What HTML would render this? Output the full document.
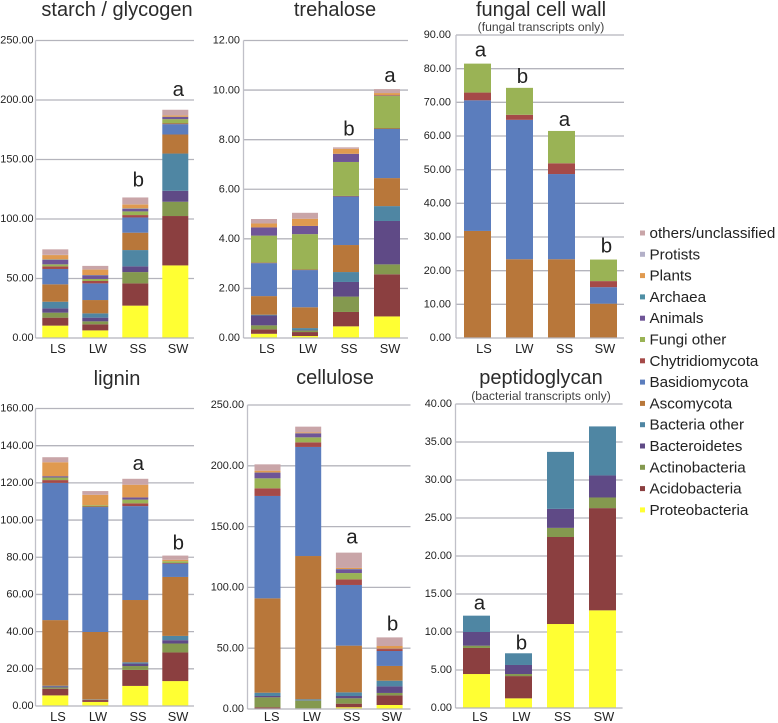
<!DOCTYPE html>
<html>
<head>
<meta charset="utf-8">
<title>Transcripts by substrate</title>
<style>
html,body{margin:0;padding:0;background:#fff;}
#chart{display:block;width:778px;height:723px;font-family:"Liberation Sans",sans-serif;filter:blur(0.3px);}
</style>
</head>
<body>
<svg id="chart" xmlns="http://www.w3.org/2000/svg" width="778" height="723" viewBox="0 0 778 723"></svg>
<script>
const categories = ['LS','LW','SS','SW'];
const seriesNames = ['Proteobacteria','Acidobacteria','Actinobacteria','Bacteroidetes','Bacteria other','Ascomycota','Basidiomycota','Chytridiomycota','Fungi other','Animals','Archaea','Plants','Protists','others/unclassified'];
const seriesColors = ['#ffff33','#8b3f40','#84994f','#5f4a86','#4f86a3','#b8773a','#5b7dbd','#a54a48','#9ab355','#6f5597','#4f8fa5','#e09a50','#b3b0c8','#c9a5a8'];

const starchTicks = ['0.00','50.00','100.00','150.00','200.00','250.00'];
const starchLS = [10.4,6.7,4.2,3.6,5.6,14.6,12.9,2.2,1.7,3.8,0.3,3.7,0.2,4.6];
const starchLW = [6.4,5.1,2.5,3.1,3.6,11.2,14,2,1.7,3.1,0.2,4.6,0.1,3];
const starchSS = [27.2,18.7,9.5,4.8,13.7,14.6,12.8,2,3.1,2.2,0.3,3.3,0.2,5.7];
const starchSW = [61,41.5,12,9.2,31.3,16,8.7,0.6,3.6,1.8,0.2,1.1,0.1,4.7];
const starchLetters = ['','','b','a'];

const trehaloseTicks = ['0.00','2.00','4.00','6.00','8.00','10.00','12.00'];
const trehaloseLS = [0.17,0.18,0.16,0.4,0.03,0.75,1.33,0.02,1.09,0.33,0,0.16,0,0.18];
const trehaloseLW = [0.08,0.16,0.06,0.02,0.08,0.84,1.5,0.02,1.43,0.33,0,0.29,0,0.24];
const trehaloseSS = [0.47,0.58,0.62,0.59,0.4,1.09,1.96,0.02,1.37,0.33,0,0.2,0,0.06];
const trehaloseSW = [0.87,1.7,0.4,1.75,0.6,1.13,1.98,0.02,1.31,0.02,0,0.1,0,0.16];
const trehaloseLetters = ['','','b','a'];

const fungalTicks = ['0.00','10.00','20.00','30.00','40.00','50.00','60.00','70.00','80.00','90.00'];
const fungalLS = [0,0,0,0,0,31.8,38.8,2.3,8.6,0,0,0,0,0];
const fungalLW = [0,0,0,0,0,23.4,41.4,1.5,8,0,0,0,0,0];
const fungalSS = [0,0,0,0,0,23.4,25.3,3.2,9.6,0,0,0,0,0];
const fungalSW = [0,0,0,0,0,10.2,4.9,1.8,6.4,0,0,0,0,0];
const fungalLetters = ['a','b','a','b'];

const ligninTicks = ['0.00','20.00','40.00','60.00','80.00','100.00','120.00','140.00','160.00'];
const ligninLS = [5.7,3.6,0.7,0.6,0.3,35.3,73.8,1.5,1.4,0.7,0,7.5,0,2.7];
const ligninLW = [2.2,1,0.2,0.1,0.1,36.2,67.2,0.3,0.7,0,0,5.6,0,2];
const ligninSS = [10.8,8.6,2.1,1.3,0.7,33.5,50.5,1.5,2,1.2,0,6.8,0,3.2];
const ligninSW = [13.4,15.4,4.8,1.8,2.3,31.7,7.2,0.3,1,0,0,0.7,0,2.3];
const ligninLetters = ['','','a','b'];

const celluloseTicks = ['0.00','50.00','100.00','150.00','200.00','250.00'];
const celluloseLS = [0.3,1.1,8.2,1.1,2.7,77.6,84.2,6.3,8.2,4.7,0.1,1.5,0,5.2];
const celluloseLW = [0.2,0.3,6.4,0.2,0.9,117.8,89.7,3.8,4.1,3.3,0.1,0.7,0,4.7];
const celluloseSS = [1.4,3,4.4,1.9,3,38.4,49.9,4.6,5.2,3.1,0.2,0.9,0,12.6];
const celluloseSW = [3.3,7.9,2,5.4,4.7,12.1,12.3,1.6,0,0.3,0,2.2,0,7.1];
const celluloseLetters = ['','','a','b'];

const peptidoTicks = ['0.00','5.00','10.00','15.00','20.00','25.00','30.00','35.00','40.00'];
const peptidoLS = [4.47,3.43,0.3,1.8,2.15,0,0,0,0,0,0,0,0,0];
const peptidoLW = [1.27,2.93,0.27,1.19,1.54,0,0,0,0,0,0,0,0,0];
const peptidoSS = [11.05,11.45,1.2,2.5,7.5,0,0,0,0,0,0,0,0,0];
const peptidoSW = [12.85,13.45,1.4,2.9,6.45,0,0,0,0,0,0,0,0,0];
const peptidoLetters = ['a','b','',''];

const NS = 'http://www.w3.org/2000/svg';
const root = document.getElementById('chart');

function make(parent, tag, attrs, text) {
  const node = document.createElementNS(NS, tag);
  for (const key in attrs) node.setAttribute(key, attrs[key]);
  if (text !== undefined) node.textContent = text;
  parent.appendChild(node);
  return node;
}

const panels = [
  {id:'starch',title:'starch / glycogen',titleX:117,titleY:16,left:35.5,right:194,top:40.5,bottom:338,barX:42.3,barStep:40,barW:26,labelX:58,labelStep:40,labelY:353,tickX:33.6,ticks:starchTicks,rows:[starchLS,starchLW,starchSS,starchSW],letters:starchLetters,gaps:[0,0,11,14]},
  {id:'trehalose',title:'trehalose',titleX:335,titleY:16,left:243.5,right:408,top:40.5,bottom:338,barX:251,barStep:41,barW:26,labelX:267,labelStep:41,labelY:353,tickX:240,ticks:trehaloseTicks,rows:[trehaloseLS,trehaloseLW,trehaloseSS,trehaloseSW],letters:trehaloseLetters,gaps:[0,0,12,7]},
  {id:'fungal-cell-wall',title:'fungal cell wall',subtitle:'(fungal transcripts only)',titleX:541,titleY:16,subY:31,left:456,right:624,top:35,bottom:338,barX:464,barStep:42,barW:27,labelX:484,labelStep:40.3,labelY:353,tickX:451,ticks:fungalTicks,rows:[fungalLS,fungalLW,fungalSS,fungalSW],letters:fungalLetters,gaps:[7,5,5,7]},
  {id:'lignin',title:'lignin',titleX:117,titleY:385,left:35.5,right:194,top:408.5,bottom:706,barX:42.3,barStep:40,barW:26,labelX:58,labelStep:40,labelY:721,tickX:33.6,ticks:ligninTicks,rows:[ligninLS,ligninLW,ligninSS,ligninSW],letters:ligninLetters,gaps:[0,0,9,6]},
  {id:'cellulose',title:'cellulose',titleX:335,titleY:384,left:247.5,right:410.5,top:405,bottom:709,barX:254.5,barStep:40.7,barW:26,labelX:271.7,labelStep:40,labelY:721,tickX:244,ticks:celluloseTicks,rows:[celluloseLS,celluloseLW,celluloseSS,celluloseSW],letters:celluloseLetters,gaps:[0,0,9,7]},
  {id:'peptidoglycan',title:'peptidoglycan',subtitle:'(bacterial transcripts only)',titleX:541,titleY:384,subY:400,left:455.5,right:622.6,top:404,bottom:708,barX:463,barStep:42,barW:27,labelX:480,labelStep:41.3,labelY:721,tickX:452,ticks:peptidoTicks,rows:[peptidoLS,peptidoLW,peptidoSS,peptidoSW],letters:peptidoLetters,gaps:[6,4,0,0]}
];

function drawPanel(p) {
  const group = make(root, 'g', {});
  
  
  const maxValue = Math.max.apply(null, p.ticks.map(parseFloat));
  const yScale = function (v) { return p.bottom - (v / maxValue) * (p.bottom - p.top); };
  const xScale = function (i) { return p.barX + i * p.barStep; };

  const title = make(group, 'text', {x:p.titleX,y:p.titleY,'text-anchor':'middle','font-size':20,fill:'#2b2b2b'}, p.title);
  
  
  if (p.subtitle) {
    const sub = make(group, 'text', {x:p.titleX,y:p.subY,'text-anchor':'middle','font-size':12.2,fill:'#444'}, p.subtitle);
    
    
  }

  p.ticks.forEach(function (label) {
    const v = parseFloat(label);
    const gy = yScale(v);
    if (v > 0) {
      const line = make(group, 'line', {x1:p.left,x2:p.right,y1:gy,y2:gy,stroke:'#b4b4bc','stroke-width':1.3});
      
      
    }
    const tick = make(group, 'text', {x:p.tickX,y:gy + 3.2,'text-anchor':'end','font-size':10.9,fill:'#222'}, label);
    
    
  });

  p.rows.forEach(function (row, c) {
    let sum = 0;
    row.forEach(function (value, s) {
      if (value <= 0) return;
      const y1 = yScale(sum + value);
      const y0 = yScale(sum);
      const seg = make(group, 'rect', {x:xScale(c),y:y1,width:p.barW,height:y0 - y1,fill:seriesColors[s]});
      
      
      sum += value;
    });
    if (p.letters[c]) {
      const mark = make(group, 'text', {x:xScale(c) + p.barW / 2 + 3,y:yScale(sum) - p.gaps[c],'text-anchor':'middle','font-size':20.5,fill:'#222'}, p.letters[c]);
      
      
    }
    const cat = make(group, 'text', {x:p.labelX + c * p.labelStep,y:p.labelY,'text-anchor':'middle','font-size':12.8,fill:'#222'}, categories[c]);
    
    
  });

  const yAxis = make(group, 'line', {x1:p.left,x2:p.left,y1:p.top,y2:p.bottom,stroke:'#c0c0c8','stroke-width':1.3});
  
  
  const xAxis = make(group, 'line', {x1:p.left,x2:p.right,y1:p.bottom,y2:p.bottom,stroke:'#b4b4bc','stroke-width':1.3});
  
  
}
panels.forEach(drawPanel);

const legend = make(root, 'g', {});


seriesNames.slice().reverse().forEach(function (name, i) {
  const color = seriesColors[seriesNames.length - 1 - i];
  const cy = 233 + i * 21.3;
  const swatch = make(legend, 'rect', {x:640,y:cy - 2.5,width:5,height:5,fill:color});
  
  
  const entry = make(legend, 'text', {x:649.5,y:cy + 5,'font-size':15.2,fill:'#222'}, name);
  
  
});
</script>
</body>
</html>
